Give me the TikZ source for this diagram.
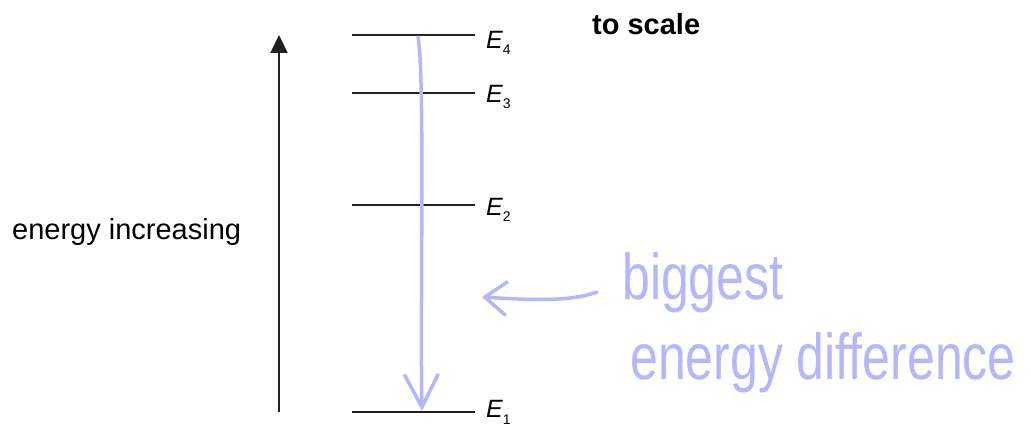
\documentclass[tikz,border=0pt]{standalone}
\usepackage{fontspec}
\setmainfont{Liberation Sans}
\usetikzlibrary{arrows.meta}
\definecolor{pen}{RGB}{182,182,250}
\definecolor{ink}{RGB}{35,31,32}
\tikzset{
  level/.style={ink, line width=2.2pt},
  lbl/.style={anchor=base west, inner sep=0pt, font=\fontsize{25}{25}\selectfont\itshape},
  txt/.style={anchor=base west, inner sep=0pt, font=\fontsize{29}{29}\selectfont},
  hand/.style={pen, line width=3.5pt, line cap=round, line join=round},
  note/.style={pen, anchor=base west, inner sep=0pt, font=\fontsize{50}{50}\selectfont},
}
\newcommand{\lev}[1]{E\raisebox{-6pt}{\upshape\fontsize{14}{14}\selectfont #1}}

\begin{document}
\begin{tikzpicture}[x=1pt, y=-1pt]
  \useasboundingbox (0,0) rectangle (1031,427);
  % energy levels
  \foreach \n/\y/\b in {4/35/49, 3/93/103, 2/205/216, 1/412/418} {
    \draw[level] (352,\y) coordinate (l\n) -- (475,\y) coordinate (r\n);
    \node[lbl] (e\n) at (486,\b) {\lev{\n}};
  }
  % axis
  \coordinate (base) at (279,412);
  \coordinate (tip) at (279,35);
  \draw[ink, line width=2.2pt, -{Triangle[length=18pt,width=17pt]}] (base) -- (tip);
  \node[txt] (axis) at (12,240) {energy increasing};
  \node[txt, font=\fontsize{29}{29}\selectfont\bfseries] (title) at (592,35) {to scale};
  % handwritten notes
  \coordinate (from) at (418,37);
  \coordinate (to) at (422,411);
  \draw[hand, -{Straight Barb[length=33pt, width=34pt]}] (from) .. controls (425,75) and (420,300) .. (to);
  \node[note] (big) at (622,300) {\scalebox{1}[1.3]{biggest}};
  \node[note] (diff) at (630,380) {\scalebox{1}[1.3]{energy difference}};
  \coordinate (tail) at (597,292);
  \coordinate (point) at (482,297);
  \draw[hand, -{Straight Barb[length=22pt, width=34pt]}] (tail) .. controls (570,302) and (530,300) .. (point);
\end{tikzpicture}
\end{document}
